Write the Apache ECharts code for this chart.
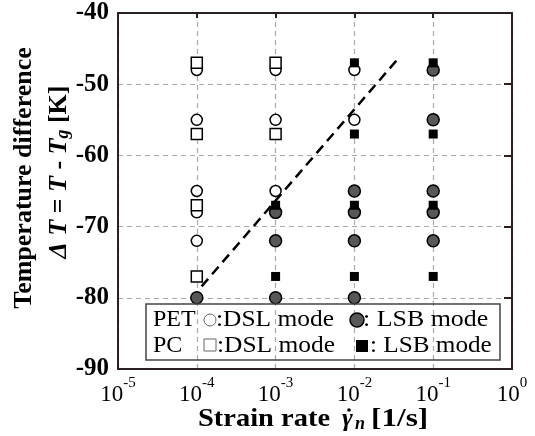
<!DOCTYPE html>
<html>
<head>
<meta charset="utf-8">
<script src="https://cdn.jsdelivr.net/npm/echarts@6/dist/echarts.min.js"></script>
<style>
  html, body { margin: 0; padding: 0; background: #fff; }
  #root { width: 535px; height: 436px; }
</style>
</head>
<body>
<div id="root"></div>
<script>
// data: [strain rate, temperature difference]
const petDsl = [[1e-4, -48], [1e-4, -55], [1e-4, -65], [1e-4, -68], [1e-4, -72],
                [1e-3, -48], [1e-3, -55], [1e-3, -65], [1e-2, -48], [1e-2, -55]];
const petLsb = [[1e-4, -80], [1e-3, -68], [1e-3, -72], [1e-3, -80],
                [1e-2, -65], [1e-2, -68], [1e-2, -72], [1e-2, -80],
                [1e-1, -48], [1e-1, -55], [1e-1, -65], [1e-1, -68], [1e-1, -72]];
const pcDsl = [[1e-4, -47], [1e-4, -57], [1e-4, -67], [1e-4, -77], [1e-3, -47], [1e-3, -57]];
const pcLsb = [[1e-3, -67], [1e-3, -77], [1e-2, -47], [1e-2, -57], [1e-2, -67], [1e-2, -77],
               [1e-1, -47], [1e-1, -57], [1e-1, -67], [1e-1, -77]];
// boundary line between the two modes
const boundary = [[1.15e-4, -78.4], [0.0347, -46.6]];
const legendRows = ['PET', 'PC'];
const legendDsl = ':DSL mode';
const legendLsb = ': LSB mode';

const SERIF = '"Liberation Serif", "Times New Roman", serif';
const FRAME = '#2b1f1f';

let myChart = echarts.init(document.getElementById('root'));

let gridLine = { show: true, lineStyle: { color: '#aaa', width: 1.2, type: [5, 4] } };

// small helper for the hand placed texts (titles, legend)
let txt = function (x, y, text, font, extra, align) {
    let el = {
        type: 'text', x: x, y: y, z: 10,
        style: { text: text, x: 0, y: 0, align: align || 'left', verticalAlign: 'middle', font: font + ' ' + SERIF, fill: '#000' }
    };
    return Object.assign(el, extra || {});
};

let option = {
    animation: false,
    grid: { left: 118, right: 23, top: 13, bottom: 67 },
    xAxis: [{
        type: 'log',
        logBase: 10,
        min: 1e-5,
        max: 1,
        axisLine: { lineStyle: { color: FRAME, width: 2 } },
        axisTick: { show: false },
        splitLine: gridLine,
        axisLabel: {
            margin: 7,
            formatter: function (v) {
                return '{b|10}{s|' + Math.round(Math.log10(v)) + '}';
            },
            rich: {
                b: { fontFamily: SERIF, fontSize: 23, color: '#000', lineHeight: 30, verticalAlign: 'bottom' },
                s: { fontFamily: SERIF, fontSize: 15, color: '#000', lineHeight: 13, verticalAlign: 'top' }
            }
        }
    }, {
        type: 'log',
        logBase: 10,
        min: 1e-5,
        max: 1,
        position: 'top',
        axisLine: { lineStyle: { color: FRAME, width: 2 } },
        axisTick: { show: true, inside: true, length: 5, lineStyle: { color: FRAME, width: 2 } },
        axisLabel: { show: false },
        splitLine: { show: false }
    }],
    yAxis: [{
        type: 'value',
        min: -90,
        max: -40,
        interval: 10,
        axisLine: { show: true, lineStyle: { color: FRAME, width: 2 } },
        axisTick: { show: false },
        splitLine: gridLine,
        axisLabel: { fontFamily: SERIF, fontWeight: 'bold', fontSize: 25, color: '#000', margin: 9 }
    }, {
        type: 'value',
        min: -90,
        max: -40,
        interval: 10,
        position: 'right',
        axisLine: { show: true, lineStyle: { color: FRAME, width: 2 } },
        axisTick: { show: true, inside: true, length: 8, lineStyle: { color: FRAME, width: 2 } },
        axisLabel: { show: false },
        splitLine: { show: false }
    }],
    series: [{
        name: 'PET DSL', type: 'scatter', data: petDsl, symbol: 'circle', symbolSize: 11,
        itemStyle: { color: '#fff', borderColor: '#000', borderWidth: 1.5, opacity: 1 }
    }, {
        name: 'PET LSB', type: 'scatter', data: petLsb, symbol: 'circle', symbolSize: 12,
        itemStyle: { color: '#585858', borderColor: '#000', borderWidth: 1.5, opacity: 1 }
    }, {
        name: 'PC DSL', type: 'scatter', data: pcDsl, symbol: 'rect', symbolSize: 11,
        itemStyle: { color: '#fff', borderColor: '#000', borderWidth: 1.5, opacity: 1 }
    }, {
        name: 'PC LSB', type: 'scatter', data: pcLsb, symbol: 'rect', symbolSize: 9,
        itemStyle: { color: '#000', opacity: 1 }
    }, {
        name: 'boundary', type: 'line', data: boundary, symbol: 'none',
        lineStyle: { color: '#000', width: 2.5, type: [10, 6] }
    }],
    graphic: [
        // y axis title, two rotated lines
        txt(24, 178, 'Temperature difference', 'bold 26px', { rotation: Math.PI / 2 }, 'center'),
        {
            type: 'text', x: 59, y: 172, rotation: Math.PI / 2,
            style: {
                text: '{i|Δ} {i|T} = {i|T} - {i|T}{s|g} [K]', x: 0, y: 0, align: 'center', verticalAlign: 'middle',
                font: 'bold 26px ' + SERIF, fill: '#000',
                rich: {
                    i: { font: 'italic bold 26px ' + SERIF, fill: '#000' },
                    s: { font: 'italic bold 18px ' + SERIF, fill: '#000', verticalAlign: 'bottom' }
                }
            }
        },
        // x axis title
        txt(198, 419.5, 'Strain rate', 'bold 26px', { scaleX: 1.095 }),
        txt(342, 419.5, 'γ', 'italic bold 26px'),
        { type: 'circle', shape: { cx: 349, cy: 410, r: 1.8 }, style: { fill: '#000' }, z: 10 },
        txt(355, 424.5, 'n', 'italic bold 18px'),
        txt(371, 419.5, '[1/s]', 'bold 26px', { scaleX: 1.2 }),
        // legend box
        {
            type: 'rect', shape: { x: 146, y: 304, width: 354, height: 56 },
            style: { fill: 'none', stroke: '#444', lineWidth: 1.5 }, z: 10
        },
        txt(153, 320, legendRows[0], '24px'),
        { type: 'circle', shape: { cx: 210, cy: 320, r: 6 }, style: { fill: 'none', stroke: '#666', lineWidth: 1 }, z: 10 },
        txt(216, 320, legendDsl, '24px', { scaleX: 1.06 }),
        { type: 'circle', shape: { cx: 357, cy: 320, r: 7 }, style: { fill: '#585858', stroke: '#000', lineWidth: 1.5 }, z: 10 },
        txt(363, 320, legendLsb, '24px', { scaleX: 1.08 }),
        txt(153, 346, legendRows[1], '24px'),
        { type: 'rect', shape: { x: 204, y: 339, width: 12, height: 12 }, style: { fill: 'none', stroke: '#666', lineWidth: 1 }, z: 10 },
        txt(217, 346, legendDsl, '24px', { scaleX: 1.06 }),
        { type: 'rect', shape: { x: 356, y: 340, width: 12, height: 12 }, style: { fill: '#000' }, z: 10 },
        txt(370, 346, legendLsb, '24px', { scaleX: 1.05 })
    ]
};

myChart.setOption(option);
</script>
</body>
</html>
